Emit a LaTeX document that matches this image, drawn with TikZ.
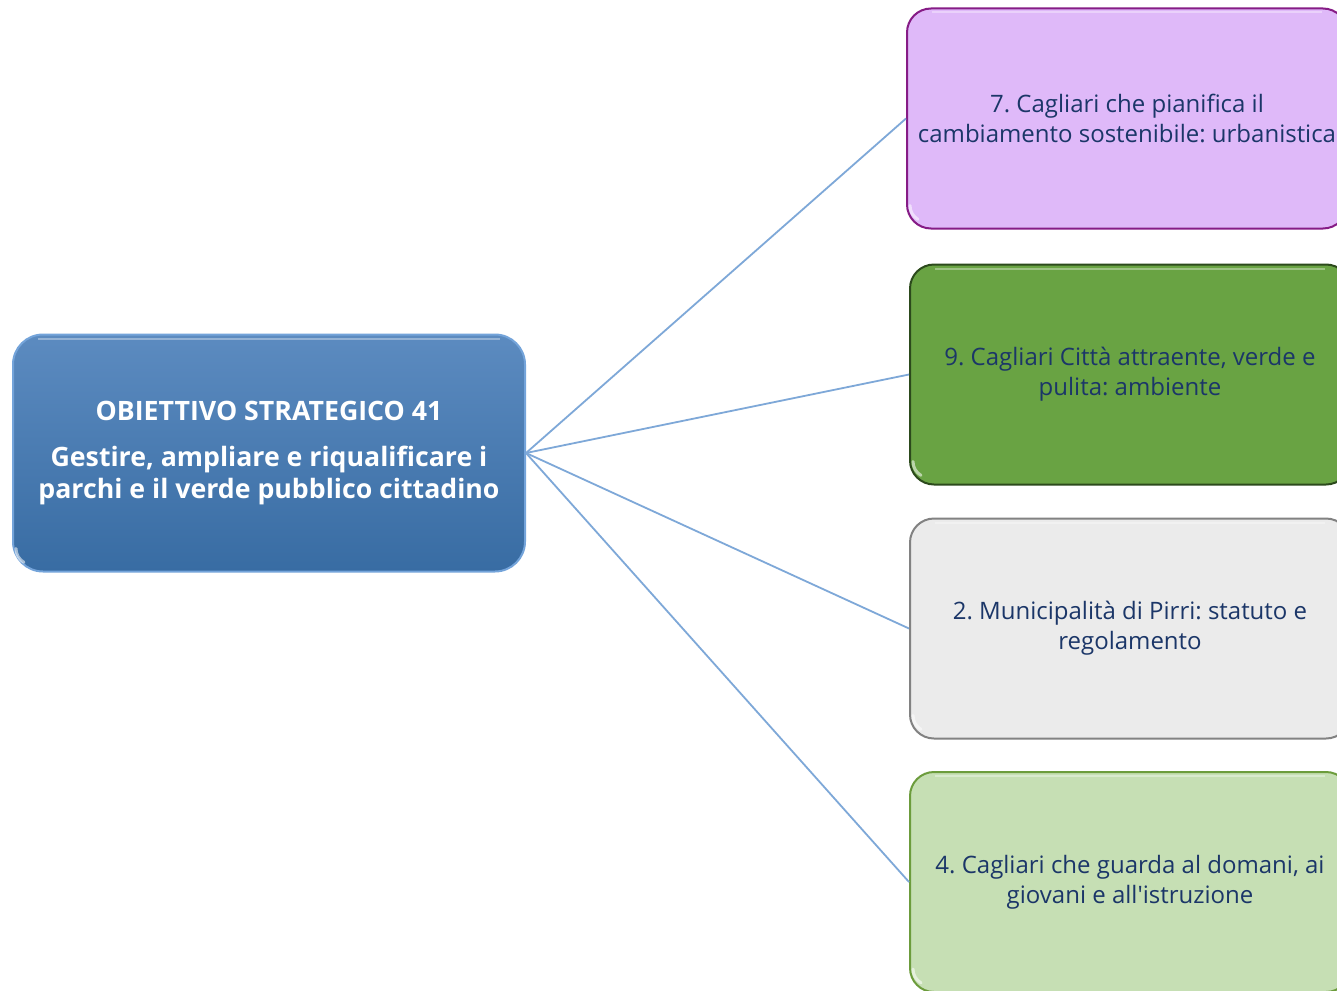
\documentclass[tikz,border=0pt]{standalone}
\usepackage{fontspec}
\setmainfont{Open Sans}[Ligatures=TeXOff]
\definecolor{linkblue}{HTML}{7EA8D8}
\definecolor{navytext}{HTML}{1B3668}
\definecolor{leftborder}{HTML}{74A4DA}
\definecolor{lefttop}{HTML}{5C8BC0}
\definecolor{leftbot}{HTML}{386CA3}
\definecolor{purfill}{HTML}{DFB9F9}
\definecolor{purdraw}{HTML}{861C86}
\definecolor{grnfill}{HTML}{69A343}
\definecolor{grndraw}{HTML}{2C4A1C}
\definecolor{gryfill}{HTML}{EBEBEB}
\definecolor{grydraw}{HTML}{828282}
\definecolor{lgrfill}{HTML}{C6DFB4}
\definecolor{lgrdraw}{HTML}{6C9C3C}
\tikzset{
  mainbox/.style={rounded corners=30pt, draw=leftborder, line width=2pt,
    top color=lefttop, bottom color=leftbot, minimum width=512pt, minimum height=237pt,
    text=white, align=center, font=\bfseries\fontsize{26.7}{32}\selectfont, inner sep=0pt},
  sidebox/.style={rounded corners=24pt, line width=2pt, minimum width=440pt, minimum height=220pt,
    text=navytext, align=center, font=\fontsize{24}{30}\selectfont, inner sep=0pt},
  link/.style={draw=linkblue, line width=1.8pt},
  gloss/.style={white, opacity=0.55, line width=3pt, line cap=round}
}
\begin{document}
\frenchspacing
\begin{tikzpicture}[x=1pt,y=-1pt]
\useasboundingbox (0,0) rectangle (1337,990);
\clip (0,0) rectangle (1337,990);
\fill[white] (0,0) rectangle (1337,990);
\node[mainbox] (L) at (269,453) {OBIETTIVO STRATEGICO 41\\[14pt]Gestire, ampliare e riqualificare i\\parchi e il verde pubblico cittadino};
\node[sidebox, draw=purdraw, fill=purfill] (b1) at (1127,118.5) {7. Cagliari che pianifica il\\cambiamento sostenibile: urbanistica};
\node[sidebox, draw=grndraw, fill=grnfill] (b2) at (1130,374.5) {9. Cagliari Città attraente, verde e\\pulita: ambiente};
\node[sidebox, draw=grydraw, fill=gryfill] (b3) at (1130,628.5) {2. Municipalità di Pirri: statuto e\\regolamento};
\node[sidebox, draw=lgrdraw, fill=lgrfill] (b4) at (1130,882) {4. Cagliari che guarda al domani, ai\\giovani e all'istruzione};
\foreach \n in {L,b1,b2,b3,b4}{
  \draw[gloss] ([xshift=4pt,yshift=24pt]\n.south west) arc[start angle=180,end angle=240,radius=16pt];
  \draw[white, opacity=0.35, line width=2pt] ([xshift=26pt,yshift=-5pt]\n.north west) -- ([xshift=-26pt,yshift=-5pt]\n.north east);
}
\draw[link] (L.east) -- (b1.west);
\draw[link] (L.east) -- (b2.west);
\draw[link] (L.east) -- (b3.west);
\draw[link] (L.east) -- (b4.west);
\end{tikzpicture}
\end{document}
